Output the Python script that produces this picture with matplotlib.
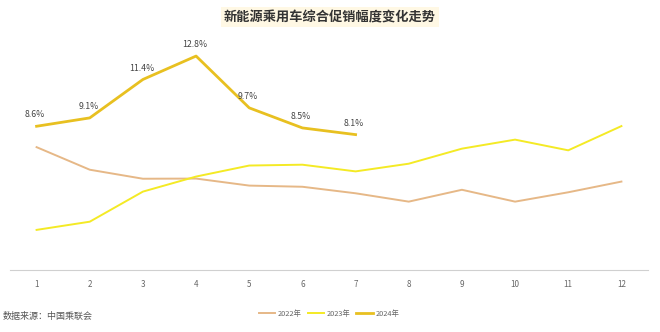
import matplotlib
matplotlib.use("Agg")
import matplotlib.pyplot as plt

plt.rcParams['font.family'] = ['Noto Sans CJK SC', 'DejaVu Sans']

# monthly promotion depth (%), NEV passenger cars
months = list(range(1, 13))
rate_2022 = [7.35, 6.0, 5.46, 5.47, 5.05, 4.98, 4.59, 4.09, 4.8, 4.09, 4.65, 5.29]
rate_2023 = [2.4, 2.89, 4.69, 5.59, 6.25, 6.3, 5.9, 6.36, 7.26, 7.8, 7.16, 8.61]
rate_2024 = [8.6, 9.1, 11.4, 12.8, 9.7, 8.5, 8.1]
series_names = ['2022年', '2023年', '2024年']
colors = ['#E6B887', '#F4EA25', '#E8C020']

fig = plt.figure(figsize=(6.6, 3.32), dpi=100)
ax = fig.add_axes([10 / 660, 1 - 270 / 332, 638 / 660, 234 / 332])

ax.plot(months, rate_2022, color=colors[0], lw=1.4, label=series_names[0])
ax.plot(months, rate_2023, color=colors[1], lw=1.4, label=series_names[1])
ax.plot(months[:len(rate_2024)], rate_2024, color=colors[2], lw=2.0, label=series_names[2])

for m, v in zip(months, rate_2024):
    ax.annotate(f"{v:.1f}%", (m, v), xytext=(-1, 5), textcoords='offset points',
                ha='center', va='bottom', fontsize=6.3, color='#444444')

ax.set_xlim(0.5, 12.5)
ax.set_ylim(0, 14)
ax.set_xticks(months)
ax.set_xticklabels([str(m) for m in months])
ax.tick_params(axis='x', length=0, labelsize=5.8, labelcolor='#666666', pad=7)
ax.set_yticks([])
for side in ['top', 'left', 'right']:
    ax.spines[side].set_visible(False)
ax.spines['bottom'].set_color('#d0d0d0')
ax.spines['bottom'].set_linewidth(0.8)

fig.text(0.5, 1 - 17 / 332, '新能源乘用车综合促销幅度变化走势', ha='center', va='center',
         fontsize=9.5, fontweight='bold', color='#333333',
         bbox=dict(boxstyle='square,pad=0.25', facecolor='#FFF8E4', edgecolor='none'))

fig.text(3 / 660, 1 - 316 / 332, '数据来源：中国乘联会', ha='left', va='center',
         fontsize=6.5, color='#555555')

fig.legend(loc='center', bbox_to_anchor=(329 / 660, 1 - 314 / 332), ncol=3,
           frameon=False, fontsize=5.3, handlelength=2.2, handletextpad=0.4,
           columnspacing=0.8, labelcolor='#666666')

fig.savefig('out.png', dpi=100, facecolor='white')
